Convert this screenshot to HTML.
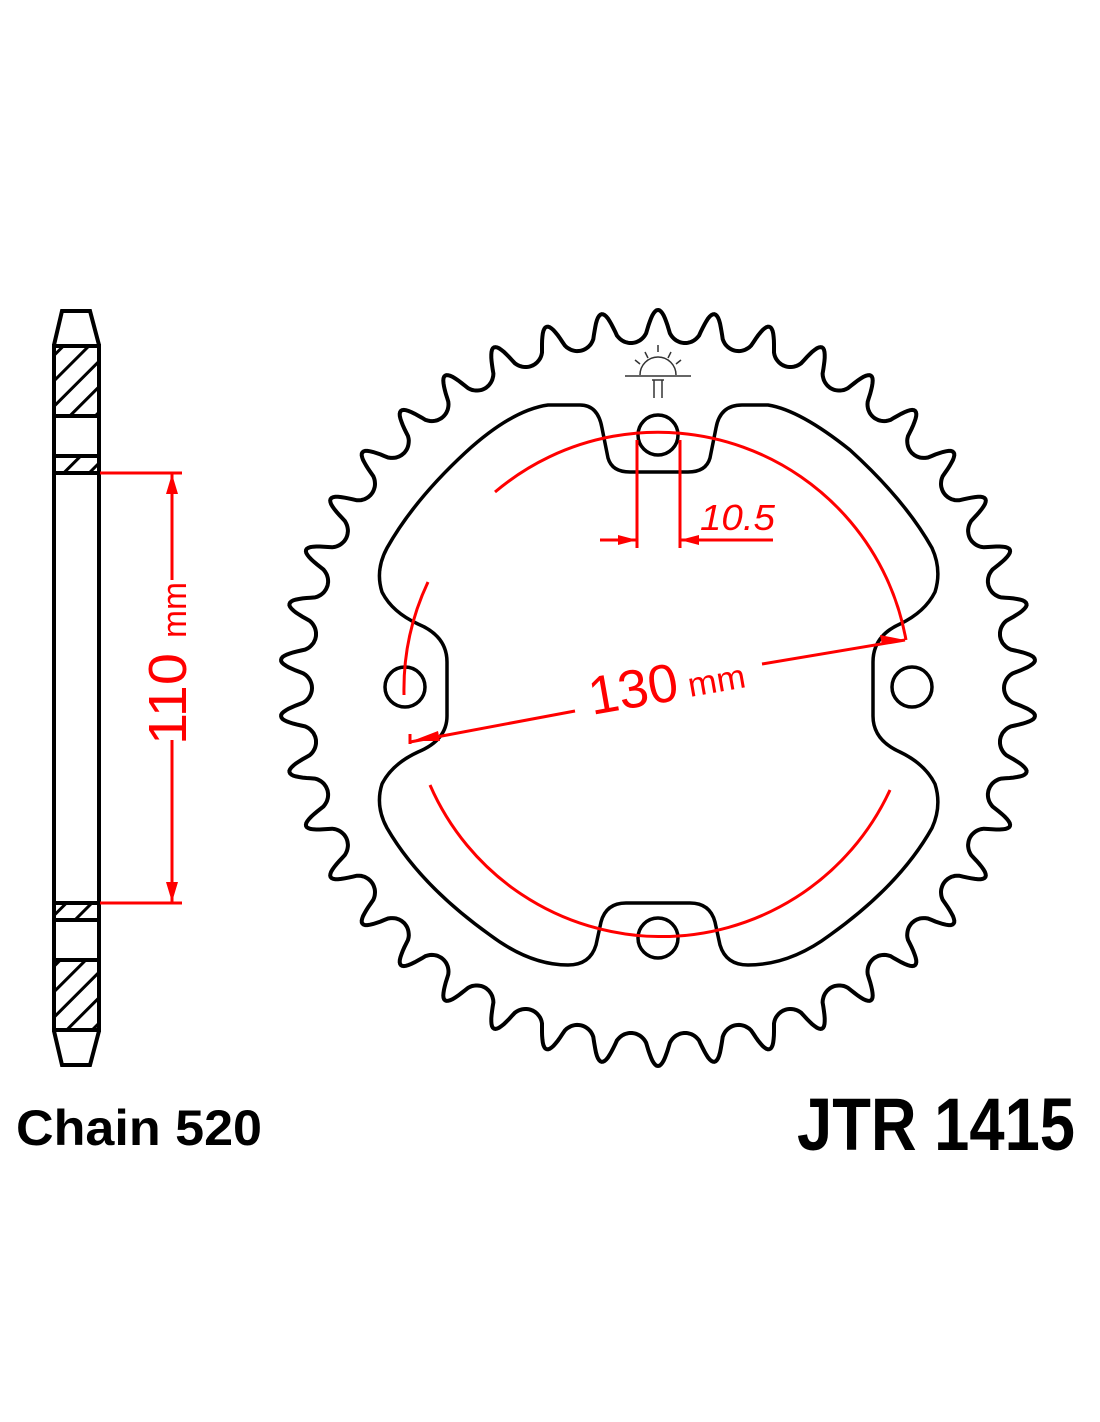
<!DOCTYPE html>
<html><head><meta charset="utf-8"><style>
html,body{margin:0;padding:0;background:#fff;}
svg{display:block}
</style></head><body>
<svg id="s" width="1100" height="1422" viewBox="0 0 1100 1422" xmlns="http://www.w3.org/2000/svg">
<defs>
<pattern id="h" patternUnits="userSpaceOnUse" width="18" height="18" patternTransform="rotate(45)">
<line x1="0" y1="0" x2="0" y2="18" stroke="#000" stroke-width="6"/>
</pattern>
</defs>
<g fill="none" stroke="#000" stroke-width="4">
<path d="M62 311 L90 311 L99 345 L99 1031 L90 1065 L62 1065 L54 1031 L54 345 Z" fill="#fff"/>
<rect x="54" y="346" width="45" height="70" fill="url(#h)"/>
<rect x="54" y="456" width="45" height="17" fill="url(#h)"/>
<rect x="54" y="903" width="45" height="17" fill="url(#h)"/>
<rect x="54" y="960" width="45" height="70" fill="url(#h)"/>
<line x1="54" y1="346" x2="99" y2="346"/><line x1="54" y1="416" x2="99" y2="416"/>
<line x1="54" y1="456" x2="99" y2="456"/><line x1="54" y1="473" x2="99" y2="473"/>
<line x1="54" y1="903" x2="99" y2="903"/><line x1="54" y1="920" x2="99" y2="920"/>
<line x1="54" y1="960" x2="99" y2="960"/><line x1="54" y1="1030" x2="99" y2="1030"/>
<path id="teeth" d=""/>
<path d="M548 405 L580 405 Q598 405 602 428 L608 458 Q612 472 630 472 L688 472 Q706 472 710 458 L716 428 Q720 405 742 405 L768 405 Q800 410 850 450 Q905 500 932 548 Q942 570 935 592 Q925 612 900 624 Q873 636 873 662 L873 716 Q873 740 900 752 Q925 764 935 784 Q942 806 932 828 Q900 885 830 935 Q790 965 748 965 Q726 965 720 945 L715 922 Q710 903 690 903 L626 903 Q606 903 601 922 L596 945 Q590 965 568 965 Q530 965 490 935 Q420 885 387 828 Q375 806 382 784 Q392 764 418 752 Q447 740 447 716 L447 662 Q447 636 418 624 Q392 612 382 592 Q375 570 387 548 Q414 500 466 452 Q512 410 548 405 Z" stroke-width="3.5"/>
<circle cx="658" cy="435" r="20" stroke-width="3.5"/>
<circle cx="658" cy="938" r="20" stroke-width="3.5"/>
<circle cx="405" cy="687" r="20" stroke-width="3.5"/>
<circle cx="912" cy="687" r="20" stroke-width="3.5"/>
</g>
<g stroke="#333" stroke-width="1.5" fill="none">
<path d="M640 375 A18 18 0 0 1 676 375"/>
<line x1="625" y1="376" x2="691" y2="376"/>
<line x1="658" y1="345" x2="658" y2="352"/><line x1="645" y1="352" x2="648" y2="358"/><line x1="671" y1="352" x2="668" y2="358"/>
<line x1="635" y1="360" x2="640" y2="364"/><line x1="681" y1="360" x2="676" y2="364"/>
<path d="M652 380 L664 380 M654 380 L654 398 M662 380 L662 398"/>
</g>
<g stroke="#f00" fill="none" stroke-width="3">
<path d="M495 492 A252 252 0 0 1 906 640"/>
<path d="M430 785 A252 252 0 0 0 890 790"/>
<path d="M428 582 A252 252 0 0 0 404 695"/>
<line x1="637" y1="440" x2="637" y2="548"/>
<line x1="680" y1="440" x2="680" y2="548"/>
<line x1="600" y1="540" x2="637" y2="540"/>
<line x1="680" y1="540" x2="773" y2="540"/>
<line x1="410" y1="742" x2="575" y2="711"/>
<line x1="762" y1="664" x2="905" y2="640"/>
<line x1="410" y1="734" x2="410" y2="744"/>
<line x1="100" y1="473" x2="182" y2="473"/>
<line x1="100" y1="903" x2="182" y2="903"/>
<line x1="172" y1="473" x2="172" y2="580"/>
<line x1="172" y1="740" x2="172" y2="903"/>
</g>
<g fill="#f00">
<polygon points="637,540 618,535 618,545"/>
<polygon points="680,540 699,535 699,545"/>
<polygon points="412,741 438,731 440,741"/>
<polygon points="905,640 880,635 882,645"/>
<polygon points="172,474 166,494 178,494"/>
<polygon points="172,902 166,882 178,882"/>
</g>
<g fill="#f00" font-family="Liberation Sans, sans-serif">
<text x="700" y="530" font-size="36" font-style="italic" textLength="75" lengthAdjust="spacingAndGlyphs">10.5</text>
<text x="592" y="715" font-size="54" transform="rotate(-10 592 715)" textLength="90" lengthAdjust="spacingAndGlyphs">130</text>
<text x="690" y="697" font-size="34" transform="rotate(-10 690 697)" textLength="58" lengthAdjust="spacingAndGlyphs">mm</text>
<text transform="translate(186 745) rotate(-90)" font-size="54" textLength="92" lengthAdjust="spacingAndGlyphs">110</text>
<text transform="translate(186 638) rotate(-90)" font-size="34" textLength="56" lengthAdjust="spacingAndGlyphs">mm</text>
</g>
<g font-family="Liberation Sans, sans-serif" font-weight="bold" fill="#000">
<text x="16" y="1145" font-size="50" textLength="246" lengthAdjust="spacingAndGlyphs">Chain 520</text>
<text x="797" y="1150" font-size="74" textLength="278" lengthAdjust="spacingAndGlyphs">JTR 1415</text>
</g>
</svg>
<script>
(function(){
var cx=658,cy=688,N=42,Rv=363,rr=17,Rt=378,P=2*Math.PI*Rv/N,pts=[];
for(var i=0;i<N;i++){for(var k=0;k<40;k++){var ph=k/40;var th=(i+ph)/N*2*Math.PI;
var d=Math.abs(ph-0.5)*P,r;
if(d<15){r=Rv-Math.sqrt(rr*rr-d*d);}else{var t=Math.min(1,(d-15)/12);r=355+23*Math.sin(t*Math.PI/2);}
pts.push((cx+r*Math.sin(th)).toFixed(1)+' '+(cy-r*Math.cos(th)).toFixed(1));}}
document.getElementById('teeth').setAttribute('d','M'+pts.join(' L')+' Z');
})();
</script>
</body></html>
